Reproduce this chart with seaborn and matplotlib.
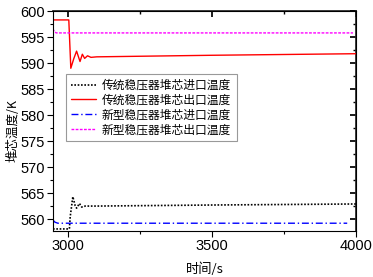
import matplotlib
matplotlib.use("Agg")
import matplotlib.pyplot as plt
import seaborn as sns
import pandas as pd
from matplotlib.ticker import MultipleLocator

sns.set_theme(style="ticks")
plt.rcParams['font.family'] = ['Liberation Sans', 'Noto Sans CJK SC']
plt.rcParams['text.color'] = 'black'
plt.rcParams['axes.labelcolor'] = 'black'
plt.rcParams['xtick.color'] = 'black'
plt.rcParams['ytick.color'] = 'black'

labels = ['传统稳压器堆芯进口温度', '传统稳压器堆芯出口温度',
          '新型稳压器堆芯进口温度', '新型稳压器堆芯出口温度']

t_old_in = [2948, 3005, 3008, 3017, 3025, 3030, 3040, 3048, 3060, 3100, 3500, 4000]
v_old_in = [558.1, 558.1, 560.5, 564.3, 562.6, 562.1, 563.0, 562.3, 562.5, 562.5, 562.7, 562.9]

t_old_out = [2948, 3003, 3010, 3020, 3030, 3042, 3050, 3058, 3068, 3080, 3100, 3500, 4000]
v_old_out = [598.3, 598.3, 589.0, 590.8, 592.3, 590.3, 591.7, 590.9, 591.4, 591.1, 591.2, 591.5, 591.8]

t_new_in = [2948, 2955, 2965, 3970]
v_new_in = [559.8, 559.4, 559.2, 559.2]

t_new_out = [2948, 2953, 2960, 3990]
v_new_out = [596.6, 596.0, 595.8, 595.8]

fig = plt.figure(figsize=(3.73, 2.77), dpi=100)
ax = fig.add_axes([0.142, 0.166, 0.812, 0.794])

sns.lineplot(x=t_old_in, y=v_old_in, ax=ax, color='black', lw=1.2,
             linestyle=(0, (1, 1)), label=labels[0])
sns.lineplot(x=t_old_out, y=v_old_out, ax=ax, color='red', lw=1.0,
             linestyle='-', label=labels[1])
sns.lineplot(x=t_new_in, y=v_new_in, ax=ax, color='blue', lw=1.0,
             linestyle=(0, (5, 2, 1, 2)), label=labels[2])
sns.lineplot(x=t_new_out, y=v_new_out, ax=ax, color='magenta', lw=1.0,
             linestyle=(0, (2, 1)), label=labels[3])

ax.set_xlim(2948, 4000)
ax.set_ylim(557.7, 600)
ax.xaxis.set_major_locator(MultipleLocator(500))
ax.xaxis.set_minor_locator(MultipleLocator(250))
ax.yaxis.set_major_locator(MultipleLocator(5))
ax.yaxis.set_minor_locator(MultipleLocator(2.5))
ax.tick_params(axis='both', which='major', length=4, width=0.8, labelsize=10.5,
               direction='out', color='black', labelcolor='black', pad=2)
ax.tick_params(axis='both', which='minor', length=2.5, width=0.8, direction='out', color='black')

# mirror ticks on top and right, pointing inward
axt = ax.secondary_xaxis('top')
axt.xaxis.set_major_locator(MultipleLocator(500))
axt.xaxis.set_minor_locator(MultipleLocator(250))
axt.tick_params(which='major', direction='in', length=4, labeltop=False, color='black')
axt.tick_params(which='minor', direction='in', length=2.5, color='black')
axr = ax.secondary_yaxis('right')
axr.yaxis.set_major_locator(MultipleLocator(5))
axr.yaxis.set_minor_locator(MultipleLocator(2.5))
axr.tick_params(which='major', direction='in', length=4, labelright=False, color='black')
axr.tick_params(which='minor', direction='in', length=2.5, color='black')

for s in ax.spines.values():
    s.set_color('black')
    s.set_linewidth(0.8)

ax.set_xlabel('时间/s', fontsize=9.5, color='black', family=['Noto Sans CJK SC', 'Liberation Sans'])
ax.set_ylabel('堆芯温度/K', fontsize=9, color='black', family=['Noto Sans CJK SC', 'Liberation Sans'])
ax.xaxis.set_label_coords(0.5, -0.145)
ax.yaxis.set_label_coords(-0.11, 0.455)

leg = ax.legend(loc='upper left', bbox_to_anchor=(0.043, 0.716), frameon=True,
                fancybox=False, edgecolor='#999999', framealpha=1,
                prop={'family': ['Noto Sans CJK SC', 'Liberation Sans'], 'size': 8.5},
                handlelength=2.1, handletextpad=0.5, borderpad=0.45, labelspacing=0.15,
                borderaxespad=0)
leg.get_frame().set_linewidth(0.8)
for txt in leg.get_texts():
    txt.set_color('black')

fig.savefig('out.png', dpi=100)
